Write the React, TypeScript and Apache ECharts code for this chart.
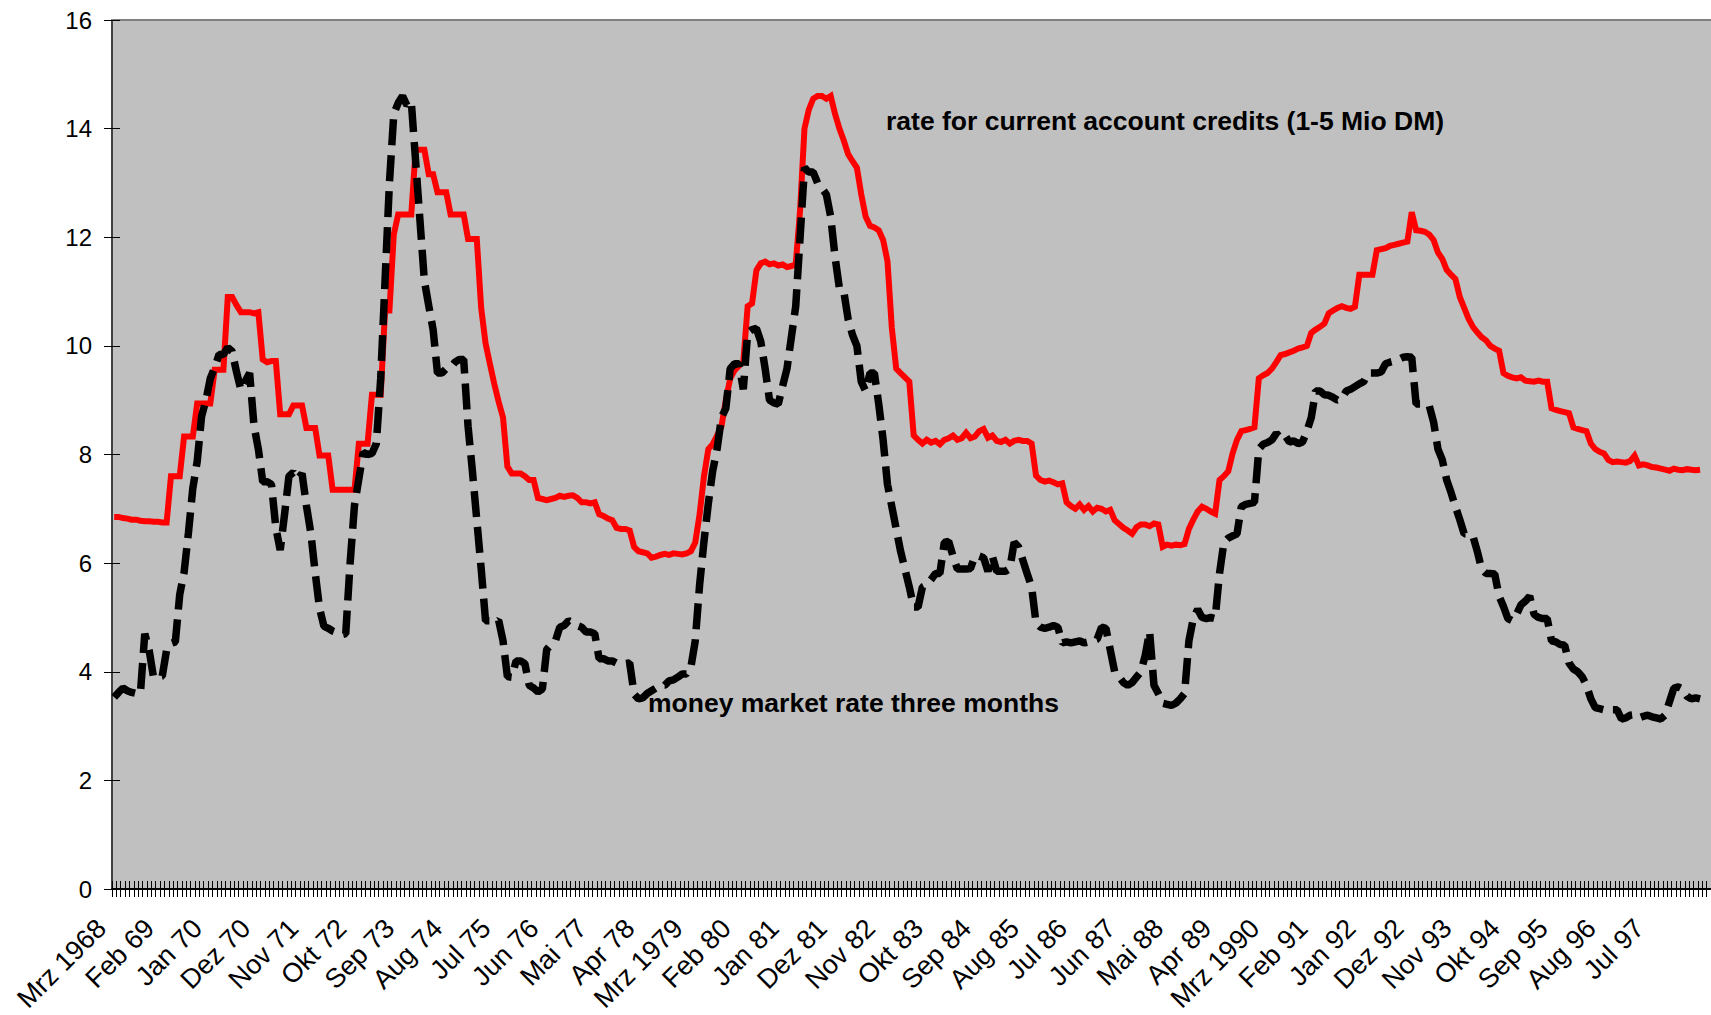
import React, { useEffect, useRef } from "react";
import * as echarts from "echarts";

const monthNames = ["Jan", "Feb", "Mrz", "Apr", "Mai", "Jun", "Jul", "Aug", "Sep", "Okt", "Nov", "Dez"];

// monthly categories Mrz 1968 .. Aug 1998 (March labels carry 4-digit years as in the source)
const categories: string[] = [];
for (let y = 1968; y <= 1998; y++) {
  for (let m = 0; m < 12; m++) {
    if (y === 1968 && m < 2) continue;
    if (y === 1998 && m > 7) break;
    const yy = m === 2 ? String(y) : String(y).slice(2);
    categories.push(monthNames[m] + " " + yy);
  }
}

const labelStep = 11;
const lastLabelIndex = 352; // Jul 97

// rate for current account credits (1-5 Mio DM), monthly, from Mrz 1968
const creditRate = [
  6.85, 6.85, 6.83, 6.82, 6.80, 6.80, 6.78, 6.77, 6.77, 6.76, // 1968
  6.76, 6.75, 6.75, 7.6, 7.6, 7.6, 8.33, 8.33, 8.33, 8.94, 8.94, 8.94, // 1969
  8.94, 9.56, 9.56, 9.56, 10.9, 10.9, 10.75, 10.62, 10.62, 10.62, 10.6, 10.62, // 1970
  9.75, 9.7, 9.72, 9.72, 8.74, 8.74, 8.74, 8.9, 8.9, 8.9, 8.49, 8.49, // 1971
  8.49, 7.98, 7.98, 7.98, 7.35, 7.35, 7.35, 7.35, 7.35, 7.35, 8.2, 8.2, // 1972
  8.2, 9.1, 9.1, 9.1, 10.65, 10.65, 12.05, 12.42, 12.42, 12.42, 12.42, 13.61, // 1973
  13.61, 13.61, 13.16, 13.16, 12.83, 12.83, 12.83, 12.42, 12.42, 12.42, 12.42, 11.97, // 1974
  11.97, 11.97, 10.7, 10.05, 9.67, 9.3, 8.97, 8.68, 7.78, 7.65, 7.65, 7.65, // 1975
  7.6, 7.53, 7.53, 7.2, 7.18, 7.16, 7.18, 7.2, 7.24, 7.22, 7.24, 7.25, // 1976
  7.2, 7.12, 7.12, 7.1, 7.12, 6.9, 6.87, 6.82, 6.79, 6.65, 6.63, 6.63, // 1977
  6.6, 6.3, 6.22, 6.2, 6.18, 6.1, 6.12, 6.15, 6.17, 6.15, 6.18, 6.17, // 1978
  6.16, 6.18, 6.22, 6.38, 6.9, 7.6, 8.1, 8.19, 8.35, 8.52, 9.0, 9.4, // 1979
  9.55, 9.63, 9.71, 10.73, 10.78, 11.39, 11.52, 11.55, 11.5, 11.52, 11.48, 11.5, // 1980
  11.45, 11.47, 11.5, 12.5, 14.0, 14.35, 14.55, 14.6, 14.6, 14.55, 14.6, 14.27, // 1981
  14.0, 13.78, 13.53, 13.4, 13.28, 12.79, 12.38, 12.21, 12.18, 12.13, 11.95, 11.56, // 1982
  10.33, 9.58, 9.5, 9.42, 9.34, 8.35, 8.27, 8.2, 8.27, 8.22, 8.25, 8.19, // 1983
  8.27, 8.3, 8.35, 8.27, 8.3, 8.4, 8.3, 8.33, 8.43, 8.47, 8.31, 8.35, // 1984
  8.25, 8.23, 8.27, 8.2, 8.25, 8.27, 8.25, 8.25, 8.2, 7.61, 7.53, 7.5, // 1985
  7.52, 7.49, 7.45, 7.47, 7.12, 7.05, 7.0, 7.08, 6.98, 7.05, 6.95, 7.02, // 1986
  7.0, 6.95, 6.98, 6.79, 6.72, 6.65, 6.6, 6.54, 6.66, 6.71, 6.71, 6.68, // 1987
  6.73, 6.71, 6.3, 6.34, 6.32, 6.34, 6.33, 6.35, 6.63, 6.8, 6.95, 7.04, // 1988
  7.0, 6.95, 6.91, 7.53, 7.6, 7.69, 8.02, 8.27, 8.43, 8.45, 8.47, 8.5, // 1989
  9.4, 9.46, 9.5, 9.58, 9.7, 9.83, 9.85, 9.88, 9.91, 9.95, 9.97, 10.0, // 1990
  10.24, 10.3, 10.35, 10.41, 10.6, 10.65, 10.7, 10.73, 10.7, 10.68, 10.72, 11.31, // 1991
  11.31, 11.31, 11.31, 11.76, 11.78, 11.8, 11.84, 11.86, 11.88, 11.9, 11.92, 12.46, // 1992
  12.13, 12.12, 12.1, 12.05, 11.95, 11.72, 11.6, 11.4, 11.31, 11.23, 10.9, 10.7, // 1993
  10.5, 10.35, 10.25, 10.16, 10.1, 10.0, 9.95, 9.91, 9.5, 9.45, 9.42, 9.4, // 1994
  9.42, 9.36, 9.35, 9.34, 9.36, 9.34, 9.34, 8.85, 8.82, 8.8, 8.78, 8.76, // 1995
  8.5, 8.47, 8.45, 8.43, 8.2, 8.1, 8.05, 8.02, 7.9, 7.86, 7.87, 7.86, // 1996
  7.85, 7.88, 7.98, 7.8, 7.82, 7.8, 7.77, 7.76, 7.74, 7.72, 7.7, 7.74, // 1997
  7.72, 7.71, 7.73, 7.72, 7.71, 7.72, // 1998
];

// money market rate three months, monthly, from Mrz 1968
const moneyRate = [
  3.53, 3.62, 3.7, 3.65, 3.62, 3.6, 3.6, 4.7, 4.4, 3.9, // 1968
  3.9, 3.92, 4.4, 4.52, 4.55, 5.42, 5.83, 6.56, 7.38, 7.87, 8.7, 9.0, // 1969
  9.4, 9.6, 9.84, 9.84, 9.97, 9.9, 9.52, 9.19, 9.35, 9.5, 8.53, 8.1, // 1970
  7.5, 7.5, 7.45, 6.65, 6.24, 6.9, 7.6, 7.67, 7.55, 7.65, 7.06, 6.56, // 1971
  5.83, 5.17, 4.84, 4.8, 4.75, 4.72, 4.68, 4.7, 6.0, 7.06, 7.55, 8.04, // 1972
  8.0, 8.02, 8.2, 9.4, 11.2, 13.0, 14.27, 14.47, 14.6, 14.43, 14.5, 13.4, // 1973
  12.3, 11.2, 10.74, 10.3, 9.5, 9.5, 9.58, 9.6, 9.7, 9.75, 9.75, 8.52, // 1974
  7.69, 6.79, 5.9, 4.94, 4.94, 4.9, 4.95, 4.57, 3.91, 3.9, 4.2, 4.2, // 1975
  4.15, 3.75, 3.7, 3.63, 3.68, 4.41, 4.5, 4.57, 4.82, 4.85, 4.94, 4.9, // 1976
  4.85, 4.82, 4.73, 4.73, 4.7, 4.24, 4.24, 4.2, 4.2, 4.16, 4.16, 4.15, // 1977
  4.16, 3.59, 3.5, 3.52, 3.6, 3.65, 3.7, 3.75, 3.75, 3.83, 3.85, 3.9, // 1978
  3.96, 3.96, 4.08, 4.57, 5.6, 6.4, 7.1, 7.7, 8.1, 8.68, 8.85, 9.58, // 1979
  9.67, 9.67, 9.2, 10.24, 10.3, 10.32, 10.08, 9.58, 9.0, 8.95, 8.93, 9.26, // 1980
  9.58, 10.16, 10.73, 12.0, 13.28, 13.2, 13.2, 13.0, 12.9, 12.79, 12.38, 11.64, // 1981
  11.06, 11.0, 10.49, 10.2, 10.0, 9.34, 9.17, 9.5, 9.5, 8.93, 8.27, 7.45, // 1982
  7.04, 6.63, 6.22, 5.89, 5.56, 5.19, 5.19, 5.56, 5.6, 5.7, 5.81, 5.81, // 1983
  6.38, 6.4, 6.13, 5.89, 5.89, 5.89, 5.9, 6.13, 6.13, 6.1, 5.85, 6.13, // 1984
  5.85, 5.85, 5.85, 5.9, 6.38, 6.3, 6.05, 5.8, 5.56, 4.9, 4.82, 4.8, // 1985
  4.82, 4.85, 4.82, 4.53, 4.55, 4.53, 4.55, 4.57, 4.53, 4.55, 4.57, 4.6, // 1986
  4.82, 4.8, 4.4, 4.0, 3.91, 3.8, 3.75, 3.8, 3.9, 4.0, 4.3, 4.74, // 1987
  3.75, 3.6, 3.42, 3.4, 3.38, 3.42, 3.5, 3.6, 4.57, 4.98, 5.15, 5.0, // 1988
  4.98, 5.0, 4.98, 5.81, 6.38, 6.46, 6.5, 6.54, 7.04, 7.08, 7.1, 7.12, // 1989
  8.1, 8.19, 8.22, 8.27, 8.39, 8.3, 8.35, 8.23, 8.25, 8.2, 8.23, 8.43, // 1990
  8.68, 9.17, 9.17, 9.1, 9.09, 9.05, 9.0, 9.02, 9.17, 9.2, 9.25, 9.3, // 1991
  9.34, 9.5, 9.5, 9.5, 9.52, 9.67, 9.7, 9.72, 9.75, 9.79, 9.8, 9.79, // 1992
  8.93, 8.93, 8.93, 8.9, 8.6, 8.1, 7.9, 7.53, 7.3, 7.04, 6.8, 6.54, // 1993
  6.54, 6.5, 6.22, 5.89, 5.81, 5.81, 5.8, 5.39, 5.2, 4.98, 4.94, 5.06, // 1994
  5.23, 5.3, 5.39, 5.06, 5.0, 4.98, 4.98, 4.57, 4.55, 4.5, 4.49, 4.16, // 1995
  4.05, 4.0, 3.91, 3.75, 3.5, 3.34, 3.32, 3.3, 3.32, 3.3, 3.3, 3.13, // 1996
  3.15, 3.2, 3.21, 3.15, 3.18, 3.2, 3.17, 3.15, 3.13, 3.2, 3.45, 3.7, // 1997
  3.72, 3.68, 3.55, 3.5, 3.52, 3.5, // 1998
];

const yTicks = { min: 0, max: 16, interval: 2 };

const creditLabel = "rate for current account credits (1-5 Mio DM)";
const moneyLabel = "money market rate three months";

const FONT = '"Liberation Sans", Arial, sans-serif';

export default function App() {
  const ref = useRef<HTMLDivElement>(null);

  useEffect(() => {
    if (!ref.current) return;
    const chart = echarts.init(ref.current, undefined, { renderer: "svg" });
    const tickLine = { color: "#000000", width: 1 };
    chart.setOption({
      animation: false,
      backgroundColor: "#ffffff",
      grid: {
        left: 112,
        top: 20,
        right: -6,
        bottom: 126,
        show: true,
        backgroundColor: "#C0C0C0",
        borderWidth: 0,
      },
      xAxis: [
        {
          type: "category",
          data: categories,
          boundaryGap: true,
          position: "bottom",
          axisLine: { show: true, lineStyle: { color: "#000000", width: 2 } },
          axisTick: { show: true, interval: 0, inside: false, length: 8, lineStyle: tickLine },
          axisLabel: {
            interval: (i: number) => i % labelStep === 0 && i <= lastLabelIndex,
            rotate: 45,
            fontFamily: FONT,
            fontSize: 27,
            color: "#000000",
            margin: 22,
            padding: [0, 18, 0, 0],
          },
          splitLine: { show: false },
        },
        {
          type: "category",
          data: categories,
          boundaryGap: true,
          position: "bottom",
          axisLine: { show: false },
          axisTick: { show: true, interval: 0, inside: true, length: 8, lineStyle: tickLine },
          axisLabel: { show: false },
          splitLine: { show: false },
        },
        {
          type: "category",
          data: categories,
          boundaryGap: true,
          position: "top",
          axisLine: { show: true, lineStyle: { color: "#808080", width: 2 } },
          axisTick: { show: false },
          axisLabel: { show: false },
          splitLine: { show: false },
        },
      ],
      yAxis: [
        {
          type: "value",
          position: "left",
          ...yTicks,
          axisLine: { show: true, lineStyle: { color: "#404040", width: 2 } },
          axisTick: { show: true, inside: false, length: 8, lineStyle: tickLine },
          axisLabel: { fontFamily: FONT, fontSize: 24, color: "#000000", margin: 20 },
          splitLine: { show: false },
        },
        {
          type: "value",
          position: "left",
          ...yTicks,
          axisLine: { show: false },
          axisTick: { show: true, inside: true, length: 8, lineStyle: tickLine },
          axisLabel: { show: false },
          splitLine: { show: false },
        },
      ],
      graphic: [
        {
          type: "text",
          left: 886,
          top: 107,
          style: { text: creditLabel, font: "bold 26.5px " + FONT, fill: "#000000" },
          z: 10,
        },
        {
          type: "text",
          left: 648,
          top: 689,
          style: { text: moneyLabel, font: "bold 26.5px " + FONT, fill: "#000000" },
          z: 10,
        },
      ],
      series: [
        {
          name: creditLabel,
          type: "line",
          data: creditRate,
          symbol: "none",
          lineStyle: { color: "#FF0000", width: 6, join: "miter" },
          z: 2,
        },
        {
          name: moneyLabel,
          type: "line",
          data: moneyRate,
          symbol: "none",
          lineStyle: { color: "#000000", width: 7.5, type: [26, 10], cap: "butt" },
          z: 3,
        },
      ],
    });
    return () => chart.dispose();
  }, []);

  return (
    <div
      ref={ref}
      style={{ position: "absolute", left: 0, top: 0, width: 1711, height: 1015 }}
    />
  );
}
